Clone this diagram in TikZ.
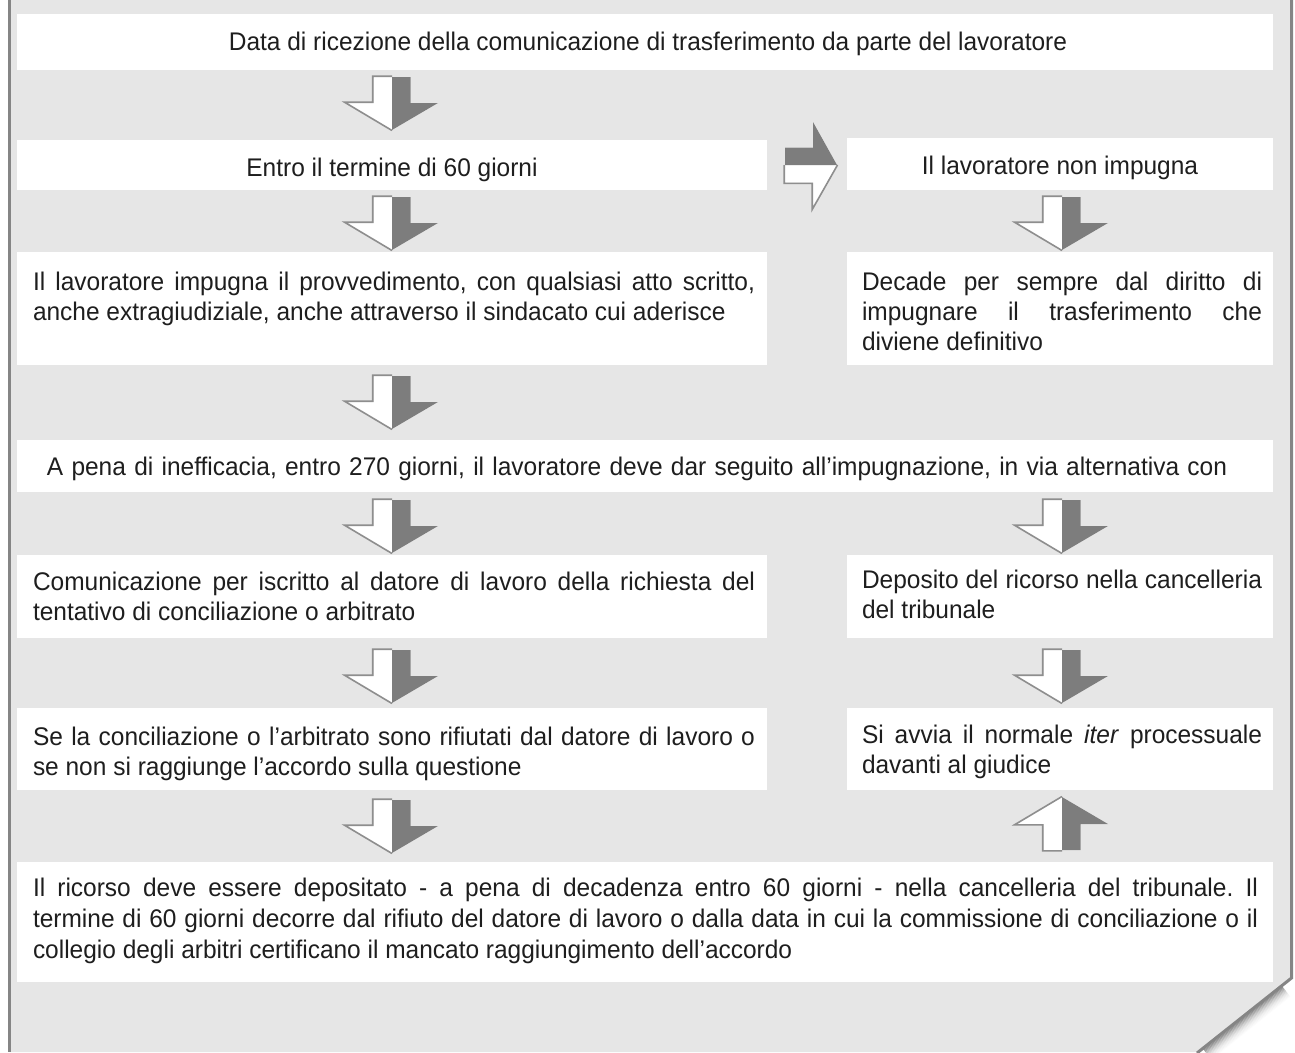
\documentclass[tikz,border=0pt]{standalone}
\usepackage{fontspec}
\setmainfont{Liberation Sans}[FakeStretch=0.96]
\definecolor{bggray}{HTML}{E6E6E6}
\definecolor{arrgray}{HTML}{7D7D7D}
\definecolor{lineg}{HTML}{8E8E8E}
\definecolor{framec}{HTML}{858585}
\definecolor{txtc}{HTML}{1E1E1E}
\tikzset{
  box/.style={fill=white, draw=none, inner sep=0pt, outer sep=0pt, anchor=north west},
  txt/.style={text=txtc, inner sep=0pt, outer sep=0pt,
    font={\fontsize{25.5}{30}\selectfont\frenchspacing\tolerance=10000 \hyphenpenalty=10000 }},
  jtxt/.style={txt, align=justify, anchor=base west},
  ctxt/.style={txt, anchor=base},
  arrline/.style={draw=lineg, line width=1.6pt, line join=miter},
  downarr/.pic={
    \fill[white] (-18.5,0) -- (18.5,0) -- (18.5,26) -- (46,26) -- (0,53) -- (-46,26) -- (-18.5,26) -- cycle;
    \draw[arrline] (0,-0.8) -- (-19.3,-0.8) -- (-19.3,25.2) -- (-47.5,25.2) -- (0,53.5);
    \fill[arrgray] (0,0) -- (18.5,0) -- (18.5,26) -- (46,26) -- (0,53) -- cycle;
  },
  rightarr/.pic={
    \fill[white] (0,-17.5) -- (28,-17.5) -- (28,-43) -- (52,0) -- (28,43) -- (28,17.5) -- (0,17.5) -- cycle;
    \draw[arrline] (-0.8,0) -- (-0.8,18.3) -- (27.2,18.3) -- (27.2,44.5) -- (52.5,0);
    \fill[arrgray] (0,0) -- (0,-17.5) -- (28,-17.5) -- (28,-43) -- (52,0) -- cycle;
  },
}
\begin{document}
\begin{tikzpicture}[x=1pt,y=-1pt]
\useasboundingbox (0,0) rectangle (1295,1052);
% page
\fill[bggray] (10,0) -- (1290,0) -- (1290,978) -- (1197,1052) -- (10,1052) -- cycle;
\foreach \i/\o in {1/0.32,2/0.28,3/0.24,4/0.20,5/0.16,6/0.13,7/0.10,8/0.08,9/0.06,10/0.04,11/0.03,12/0.02,13/0.01}
  \draw[black, opacity=\o, line width=1.4pt, shift={(\i*0.62,\i*0.79)}] (1282,986) -- (1203,1049);
\draw[framec, line width=3pt] (9.5,0) -- (9.5,1052);
\draw[framec, line width=3pt, line join=miter] (1291.5,0) -- (1291.5,978) -- (1197,1053);

% boxes
\node[box, minimum width=1256pt, minimum height=56pt]  (b1)  at (17,14)  {};
\node[box, minimum width=750pt,  minimum height=50pt]  (b2)  at (17,140) {};
\node[box, minimum width=426pt,  minimum height=52pt]  (b3)  at (847,138) {};
\node[box, minimum width=750pt,  minimum height=113pt] (b4)  at (17,252) {};
\node[box, minimum width=426pt,  minimum height=113pt] (b5)  at (847,252) {};
\node[box, minimum width=1256pt, minimum height=52pt]  (b6)  at (17,440) {};
\node[box, minimum width=750pt,  minimum height=83pt]  (b7)  at (17,555) {};
\node[box, minimum width=426pt,  minimum height=83pt]  (b8)  at (847,555) {};
\node[box, minimum width=750pt,  minimum height=82pt]  (b9)  at (17,708) {};
\node[box, minimum width=426pt,  minimum height=82pt]  (b10) at (847,708) {};
\node[box, minimum width=1256pt, minimum height=120pt] (b11) at (17,862) {};

% texts
\node[ctxt] (t1) at (648,50) {Data di ricezione della comunicazione di trasferimento da parte del lavoratore};
\node[ctxt] (t2) at (392,176) {Entro il termine di 60 giorni};
\node[ctxt] (t3) at (1060,174) {Il lavoratore non impugna};
\node[jtxt, text width=722pt] (t4) at (33,290) {Il lavoratore impugna il provvedimento, con qualsiasi atto scritto,\linebreak anche extragiudiziale, anche attraverso il sindacato cui aderisce};
\node[jtxt, text width=400pt] (t5) at (862,290) {Decade per sempre dal diritto di\linebreak impugnare il trasferimento che\linebreak diviene definitivo};
\node[ctxt] (t6) at (637,475) {\spaceskip=8.3pt A pena di inefficacia, entro 270 giorni, il lavoratore deve dar seguito all’impugnazione, in via alternativa con};
\node[jtxt, text width=722pt] (t7) at (33,590) {Comunicazione per iscritto al datore di lavoro della richiesta del\linebreak tentativo di conciliazione o arbitrato};
\node[jtxt, text width=400pt] (t8) at (862,588) {Deposito del ricorso nella cancelleria\linebreak del tribunale};
\node[jtxt, text width=722pt] (t9) at (33,745) {Se la conciliazione o l’arbitrato sono rifiutati dal datore di lavoro o\linebreak se non si raggiunge l’accordo sulla questione};
\node[jtxt, text width=400pt] (t10) at (862,743) {Si avvia il normale \textit{iter} processuale\linebreak davanti al giudice};
\node[jtxt, text width=1225pt, font={\fontsize{25.5}{31}\selectfont\frenchspacing\tolerance=10000 \hyphenpenalty=10000 }] (t11) at (33,896) {Il ricorso deve essere depositato - a pena di decadenza entro 60 giorni - nella cancelleria del tribunale. Il\linebreak termine di 60 giorni decorre dal rifiuto del datore di lavoro o dalla data in cui la commissione di conciliazione o il\linebreak collegio degli arbitri certificano il mancato raggiungimento dell’accordo};

% arrows
\pic at (392,77)  {downarr};
\pic at (392,197) {downarr};
\pic at (1062,197) {downarr};
\pic at (392,376) {downarr};
\pic at (392,500) {downarr};
\pic at (1062,500) {downarr};
\pic at (392,650) {downarr};
\pic at (1062,650) {downarr};
\pic at (392,800) {downarr};
\pic[yscale=-1] at (1062,850) {downarr};
\pic at (785,165) {rightarr};
\end{tikzpicture}
\end{document}
